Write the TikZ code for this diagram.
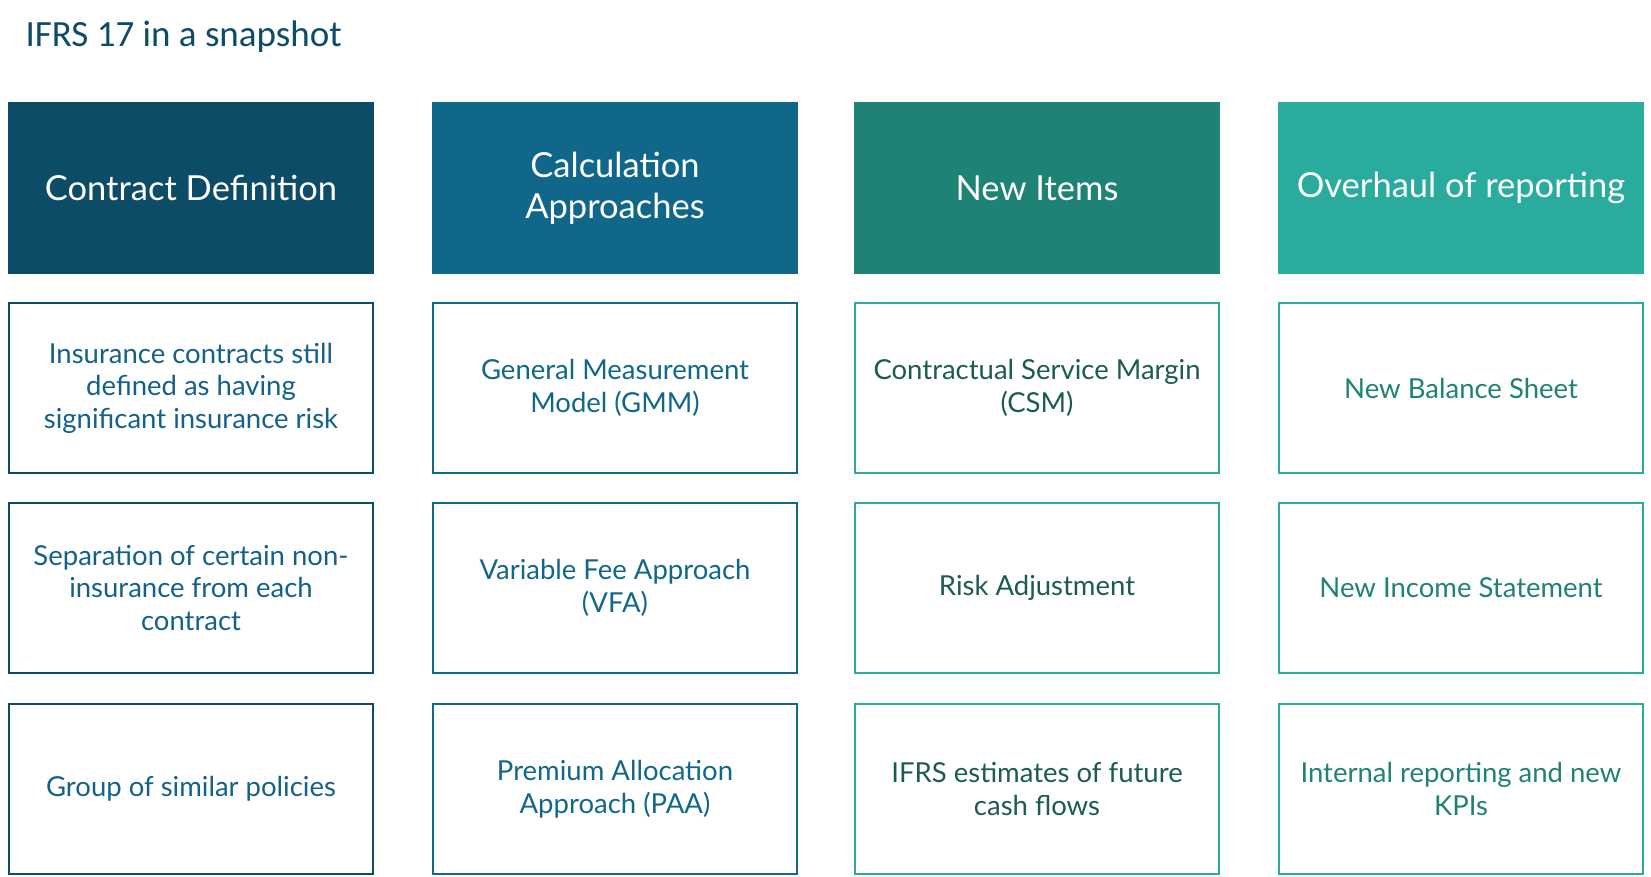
\documentclass[tikz,border=0pt]{standalone}
\usepackage{fontspec}
\setmainfont{Lato}
\newfontfamily\titlefont{Carlito}
\definecolor{cA}{HTML}{0D4C67}
\definecolor{cB}{HTML}{10678A}
\definecolor{cC}{HTML}{1E8274}
\definecolor{cD}{HTML}{29AB9D}
\definecolor{tA}{HTML}{13618A}
\definecolor{tC}{HTML}{1B5C50}
\definecolor{tD}{HTML}{1E8274}
\begin{document}
\begin{tikzpicture}[x=1pt,y=-1pt,
  hdr/.style={minimum width=366pt,minimum height=172pt,inner sep=0pt,align=center,text=white,
    font=\fontsize{34.5}{41}\selectfont},
  cell/.style={draw,line width=2pt,minimum width=364pt,minimum height=170pt,inner sep=0pt,align=center,
    font=\fontsize{27.5}{32.5}\selectfont}]
\useasboundingbox (0,0) rectangle (1651,876);
\node[anchor=west,text=cA,font=\titlefont\fontsize{37}{42}\selectfont] (title) at (22,37) {IFRS 17 in a snapshot};
% headers
\node[hdr,fill=cA] (h1) at (191,188) {Contract Definition};
\node[hdr,fill=cB] (h2) at (615,188) {Calculation\\Approaches};
\node[hdr,fill=cC] (h3) at (1037,188) {New Items};
\node[hdr,fill=cD] (h4) at (1461,188) {Overhaul of reporting};
% column 1
\node[cell,draw=cA,text=tA] (a1) at (191,388) {Insurance contracts still\\defined as having\\significant insurance risk};
\node[cell,draw=cA,text=tA] (a2) at (191,588) {Separation of certain non-\\insurance from each\\contract};
\node[cell,draw=cA,text=tA] (a3) at (191,789) {Group of similar policies};
% column 2
\node[cell,draw=cB,text=cB] (b1) at (615,388) {General Measurement\\Model (GMM)};
\node[cell,draw=cB,text=cB] (b2) at (615,588) {Variable Fee Approach\\(VFA)};
\node[cell,draw=cB,text=cB] (b3) at (615,789) {Premium Allocation\\Approach (PAA)};
% column 3
\node[cell,draw=cD,text=tC] (c1) at (1037,388) {Contractual Service Margin\\(CSM)};
\node[cell,draw=cD,text=tC] (c2) at (1037,588) {Risk Adjustment};
\node[cell,draw=cD,text=tC] (c3) at (1037,789) {IFRS estimates of future\\cash flows};
% column 4
\node[cell,draw=cD,text=tD] (d1) at (1461,388) {New Balance Sheet};
\node[cell,draw=cD,text=tD] (d2) at (1461,588) {New Income Statement};
\node[cell,draw=cD,text=tD] (d3) at (1461,789) {Internal reporting and new\\KPIs};
\end{tikzpicture}
\end{document}
